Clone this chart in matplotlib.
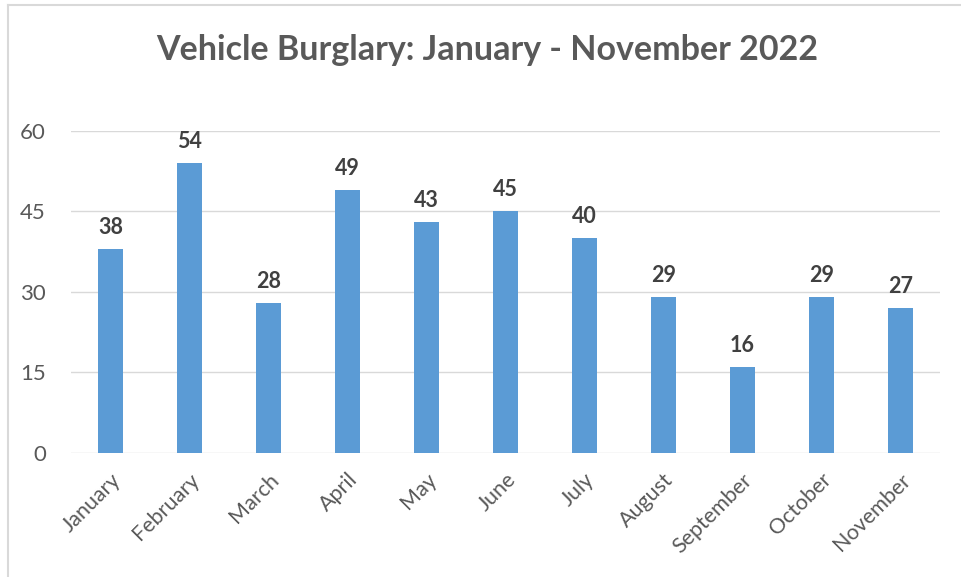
import matplotlib
matplotlib.use("Agg")
from matplotlib import pyplot as plt
from matplotlib.lines import Line2D

plt.rcParams['font.family'] = ['Lato', 'DejaVu Sans']

# data
months = ["January", "February", "March", "April", "May", "June",
          "July", "August", "September", "October", "November"]
counts = [38, 54, 28, 49, 43, 45, 40, 29, 16, 29, 27]
yticks = [0, 15, 30, 45, 60]

fig = plt.figure(figsize=(9.62, 5.77), dpi=100)
ax = fig.add_axes([0.0738, 0.2149, 0.9032, 0.5581])

x = range(len(months))
bars = ax.bar(x, counts, width=0.31, color="#5B9BD5", zorder=3)

for b, v in zip(bars, counts):
    ax.annotate(str(v), (b.get_x() + b.get_width() / 2, v),
                xytext=(0, 8), textcoords="offset points",
                ha="center", va="bottom", fontsize=15.5, fontweight="bold",
                color="#404040")

ax.set_xlim(-0.5, len(months) - 0.5)
ax.set_ylim(0, 60)
ax.set_yticks(yticks)
ax.set_xticks(list(x))
ax.set_xticklabels(months, rotation=45, ha="right", rotation_mode="anchor")
ax.tick_params(axis="x", length=0, labelsize=15.5, labelcolor="#595959", pad=12)
ax.tick_params(axis="y", length=0, labelsize=16, labelcolor="#595959", pad=18)
ax.grid(axis="y", color="#D9D9D9", linewidth=1, zorder=0)
for s in ax.spines.values():
    s.set_visible(False)

fig.text(0.506, 0.913, "Vehicle Burglary: January - November 2022",
         ha="center", va="center", fontsize=24.5, fontweight="bold",
         color="#595959")

# chart border (top and left only visible)
fig.add_artist(Line2D([8 / 962, 1], [1 - 5 / 577, 1 - 5 / 577],
                      transform=fig.transFigure, color="#D9D9D9", linewidth=1.5))
fig.add_artist(Line2D([8 / 962, 8 / 962], [0, 1 - 5 / 577],
                      transform=fig.transFigure, color="#D9D9D9", linewidth=1.5))

fig.savefig("out.png", dpi=100)
